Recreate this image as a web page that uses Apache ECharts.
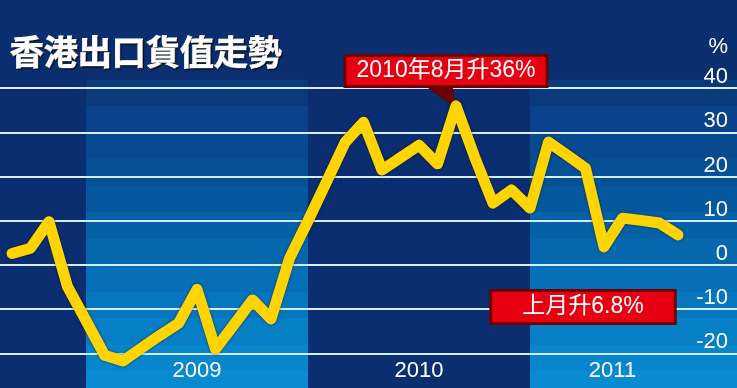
<!DOCTYPE html>
<html><head><meta charset="utf-8">
<script src="https://cdn.jsdelivr.net/npm/echarts@6/dist/echarts.min.js"></script>
<style>html,body{margin:0;padding:0;background:#0b2e70}#c{width:737px;height:388px}</style>
</head><body><div id="c"></div>
<script>
// Monthly points, Aug 2008 .. Aug 2011
const months = ['2008-08','2008-09','2008-10','2008-11','2008-12',
  '2009-01','2009-02','2009-03','2009-04','2009-05','2009-06','2009-07','2009-08','2009-09','2009-10','2009-11','2009-12',
  '2010-01','2010-02','2010-03','2010-04','2010-05','2010-06','2010-07','2010-08','2010-09','2010-10','2010-11','2010-12',
  '2011-01','2011-02','2011-03','2011-04','2011-05','2011-06','2011-07','2011-08'];
const exportGrowth = [2.6, 3.8, 9.8, -4.9, -12.6,
  -20.4, -21.7, -18.8, -15.9, -13.2, -5.5, -19.0, -13.5, -7.9, -12.2, 1.5, 10.0,
  18.8, 27.7, 32.3, 21.5, 24.3, 27.1, 22.9, 36.0, 24.5, 14.0, 17.0, 12.9,
  27.8, 24.9, 21.9, 4.1, 10.6, 10.1, 9.5, 6.8];
const yearLabels = ['2009', '2010', '2011'];
const titleText = '香港出口貨值走勢';
const unitText = '%';
const peakNote = '2010年8月升36%';
const lastNote = '上月升6.8%';

const bandColors = ['#0b3a7c','#09428a','#074a8f','#065196','#05589d','#0561a6','#0568ae','#0570b7','#0677be','#067fc5','#0786cc','#088bd1'];
function steppedGradient(cols){
  const stops = [];
  const n = cols.length;
  cols.forEach((c,i)=>{ stops.push({offset:i/n, color:c}); stops.push({offset:(i+1)/n, color:c}); });
  return new echarts.graphic.LinearGradient(0,0,0,1,stops);
}

const firstBand = months.indexOf('2008-12');
const xMin = -0.65, xMax = 39.19;
const bands = yearLabels.map((y,i)=>{
  const s = firstBand + 12*i;
  const e = Math.min(s + 12, xMax);
  const item0 = {xAxis: s, name: y};
  if (i % 2 === 1) item0.itemStyle = {color:'rgba(0,0,0,0)'};
  if (i === 2) item0.label = {offset:[-21,0]};
  return [item0, {xAxis: e}];
});

const peakIdx = months.indexOf('2010-08');
const lastIdx = months.length - 1;
const font = "'Liberation Sans','Noto Sans CJK TC',sans-serif";

const chart = echarts.init(document.getElementById('c'));
chart.setOption({
  backgroundColor: '#0b2e70',
  animation: false,
  title: [{
    text: titleText, left: 5, top: 30,
    textStyle: {color:'#fff', fontSize:34, fontWeight:'bold', fontFamily:"'Noto Sans CJK TC',sans-serif",
      textBorderColor:'#fff', textBorderWidth:1,
      textShadowColor:'rgba(0,0,0,0.7)', textShadowOffsetX:1, textShadowOffsetY:1, textShadowBlur:1}
  }, {
    text: unitText, right: 4, top: 31,
    textStyle: {color:'#fff', fontSize:22, fontWeight:'normal', fontFamily:font}
  }],
  grid: {left:0, right:0, top:79.8, bottom:-9.6, containLabel:false, outerBoundsMode:'none'},
  xAxis: {type:'value', min:xMin, max:xMax, show:false, splitLine:{show:false}},
  yAxis: {
    type:'value', position:'right', min:-30, max:41.9, interval:10, z:3,
    axisLine:{show:false}, axisTick:{show:false},
    axisLabel:{inside:true, margin:9, color:'#fff', fontSize:22, fontFamily:font, verticalAlign:'bottom',
      showMinLabel:false, showMaxLabel:false},
    splitLine:{show:true, showMinLine:false, showMaxLine:false, lineStyle:{color:'#d4edff', width:2}}
  },
  series: [
    {
      type:'line', data:[], z:1, silent:true,
      markArea:{
        silent:true,
        itemStyle:{color: steppedGradient(bandColors)},
        label:{show:true, position:'insideBottom', distance:16, color:'#fff', fontSize:22, fontFamily:font},
        data: bands
      }
    },
    {
      type:'line', z:5, symbol:'none', silent:true,
      data: months.map((m,i)=>[i, exportGrowth[i]]),
      lineStyle:{color:'#ffd400', width:11, cap:'round', join:'round',
        shadowColor:'rgba(0,10,50,0.6)', shadowBlur:3},
      markPoint:{
        silent:true,
        data:[
          {coord:[peakIdx, exportGrowth[peakIdx]], symbol:'path://M0,0L25,0L28,20Z', symbolSize:[28,20],
            symbolOffset:[-14,-8], itemStyle:{color:'#6b0000'}, label:{show:false}},
          {coord:[peakIdx, exportGrowth[peakIdx]], symbol:'rect', symbolSize:0,
            label:{show:true, position:'inside', offset:[-10,-35], formatter:peakNote,
              color:'#fff', fontSize:23, fontFamily:font, lineHeight:24,
              backgroundColor:'#e60012', borderColor:'#700000', borderWidth:3, padding:[2,10,2,10]}},
          {coord:[lastIdx, exportGrowth[lastIdx]], symbol:'rect', symbolSize:0,
            label:{show:true, position:'inside', offset:[-95,72], formatter:lastNote,
              color:'#fff', fontSize:23, fontFamily:font, lineHeight:24,
              backgroundColor:'#e60012', borderColor:'#700000', borderWidth:3, padding:[3,30,3,30]}}
        ]
      }
    }
  ]
});
</script></body></html>
